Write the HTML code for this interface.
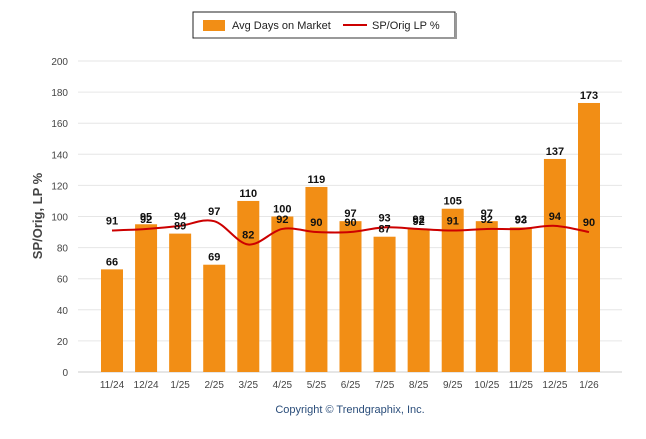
<!DOCTYPE html>
<html><head><meta charset="utf-8"><style>
body{margin:0;background:#fff;font-family:"Liberation Sans",sans-serif}
svg text{font-family:"Liberation Sans",sans-serif}
</style></head><body>
<svg id="c" width="646" height="434">
<rect x="193" y="12" width="262" height="26" fill="#fff" stroke="#222" stroke-width="1"/>
<rect x="194" y="37" width="262" height="2" fill="#999"/><rect x="455" y="13" width="2" height="26" fill="#999"/>
<rect x="203" y="20" width="22" height="11" fill="#f28e15"/>
<text x="232" y="29" font-size="11" fill="#222">Avg Days on Market</text>
<line x1="343" y1="25" x2="367" y2="25" stroke="#c00" stroke-width="2"/>
<text x="372" y="29" font-size="11" fill="#222">SP/Orig LP %</text>
<text transform="translate(42,216) rotate(-90)" text-anchor="middle" font-size="13" font-weight="bold" fill="#444">SP/Orig, LP %</text>
<text x="350" y="413" text-anchor="middle" font-size="11" fill="#2a4d7a">Copyright © Trendgraphix, Inc.</text>
<g id="grid"></g><g id="bars"></g><path id="line" fill="none" stroke="#c00" stroke-width="2"/><g id="labels"></g>
</svg>
<script>
const categories=["11/24","12/24","1/25","2/25","3/25","4/25","5/25","6/25","7/25","8/25","9/25","10/25","11/25","12/25","1/26"];
const daysOnMarket=[66,95,89,69,110,100,119,97,87,92,105,97,93,137,173];
const spOrig=[91,92,94,97,82,92,90,90,93,92,91,92,92,94,90];
const yTicks=[0,20,40,60,80,100,120,140,160,180,200];
const NS="http://www.w3.org/2000/svg";
const L=78,R=622,T=61,B=372;
const y=v=>B-(v/200)*(B-T);
const x=i=>112+i*(589-112)/(categories.length-1);
function mk(t,a,p){const e=document.createElementNS(NS,t);for(const k in a)e.setAttribute(k,a[k]);p.appendChild(e);return e;}
const g=document.getElementById('grid');
yTicks.forEach(v=>{const l=mk('line',{x1:L,x2:R,y1:y(v),y2:y(v),stroke:v===0?'#ccc':'#e6e6e6'},g);


const t=mk('text',{x:68,y:y(v)+4,'text-anchor':'end','font-size':10,fill:'#444'},g);t.textContent=v;

});
const bg=document.getElementById('bars'),lg=document.getElementById('labels');
categories.forEach((c,i)=>{
const b=mk('rect',{x:x(i)-11,y:y(daysOnMarket[i]),width:22,height:B-y(daysOnMarket[i]),fill:'#f28e15'},bg);


const t=mk('text',{x:x(i),y:B+16,'text-anchor':'middle','font-size':10,fill:'#444'},bg);t.textContent=c;


const bl=mk('text',{x:x(i),y:y(daysOnMarket[i])-4,'text-anchor':'middle','font-size':11,'font-weight':'bold',fill:'#111'},lg);bl.textContent=daysOnMarket[i];


const ll=mk('text',{x:x(i),y:y(spOrig[i])-6,'text-anchor':'middle','font-size':11,'font-weight':'bold',fill:'#111'},lg);ll.textContent=spOrig[i];


});
const pts=spOrig.map((v,i)=>[x(i),y(v)]);
let d='M'+pts[0][0]+','+pts[0][1];
for(let i=0;i<pts.length-1;i++){const p0=pts[Math.max(0,i-1)],p1=pts[i],p2=pts[i+1],p3=pts[Math.min(pts.length-1,i+2)];
const k=1/6;d+=` C${p1[0]+(p2[0]-p0[0])*k},${p1[1]+(p2[1]-p0[1])*k} ${p2[0]-(p3[0]-p1[0])*k},${p2[1]-(p3[1]-p1[1])*k} ${p2[0]},${p2[1]}`;}
document.getElementById('line').setAttribute('d',d);
</script>
</body></html>
